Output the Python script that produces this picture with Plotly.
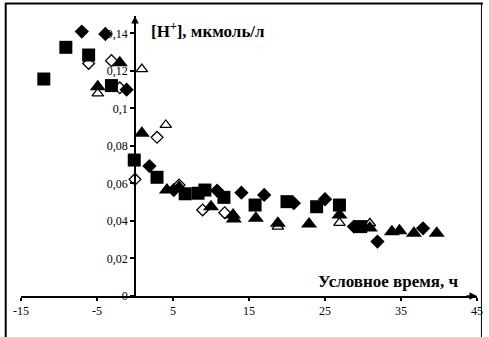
import plotly.graph_objects as go

# ---- data (conditional time, h ; [H+], umol/l) ----
diam_x = [-7.0, -3.9, -1.1, 1.9, 5.1, 10.8, 14.0, 17.0, 20.9, 25.0, 28.8, 31.9, 37.9]
diam_y = [0.141, 0.1397, 0.110, 0.0693, 0.0565, 0.0562, 0.0551, 0.0539, 0.0495, 0.0516, 0.037, 0.029, 0.0361]

sq_x = [-12.0, -9.1, -6.1, -3.1, -0.1, 2.9, 6.6, 8.3, 9.2, 11.7, 15.8, 20.0, 23.9, 26.9, 29.7]
sq_y = [0.1157, 0.1326, 0.1285, 0.1122, 0.0725, 0.0633, 0.0545, 0.0548, 0.0565, 0.0526, 0.0485, 0.0503, 0.0476, 0.0485, 0.037]

tri_x = [-4.9, -2.0, 0.9, 4.2, 5.8, 10.0, 12.9, 13.0, 15.9, 18.8, 22.9, 26.9, 30.9, 33.8, 34.8, 36.7, 39.7]
tri_y = [0.1116, 0.1244, 0.0868, 0.0565, 0.058, 0.0476, 0.0432, 0.041, 0.0414, 0.0388, 0.0384, 0.0432, 0.0363, 0.0343, 0.0348, 0.0334, 0.0334]

odiam_x = [-6.1, -3.1, -2.0, 0.0, 2.9, 5.8, 8.9, 11.8]
odiam_y = [0.124, 0.1255, 0.111, 0.0622, 0.0846, 0.0592, 0.0459, 0.0444]

otri_x = [-4.9, 0.9, 4.05, 18.8, 26.9, 30.9]
otri_y = [0.108, 0.121, 0.0912, 0.037, 0.039, 0.0388]

x_tick_vals = [-15, -5, 5, 15, 25, 35, 45]
x_tick_text = ["-15", "-5", "5", "15", "25", "35", "45"]
y_tick_vals = [0, 0.02, 0.04, 0.06, 0.08, 0.10, 0.12, 0.14]
y_tick_text = ["0", "0,02", "0,04", "0,06", "0,08", "0,1", "0,12", "0,14"]

x_title = "Условное время, ч"
y_title = "[H<sup>+</sup>], мкмоль/л"

FONT = "Liberation Serif, Times New Roman, serif"

fig = go.Figure()

def add(x, y, symbol, size, filled):
    fig.add_trace(go.Scatter(
        x=x, y=y, mode="markers", showlegend=False, cliponaxis=False,
        marker=dict(symbol=symbol, size=size,
                    color="black" if filled else "white",
                    line=dict(color="black", width=0 if filled else 1.3)),
    ))

add(odiam_x, odiam_y, "diamond", 9, False)
add(otri_x, otri_y, "triangle-up", 10, False)
add(sq_x, sq_y, "square", 13, True)
add(diam_x, diam_y, "diamond", 11, True)
add(tri_x, tri_y, "triangle-up", 14, True)

W, H = 489, 337
L, R, T, B = 21, 6, 16, 41
pw, ph = W - L - R, H - T - B

def px(xp):
    return (xp - L) / pw

def py(yp):
    return (H - B - yp) / ph

fig.update_layout(
    width=W, height=H,
    margin=dict(l=L, r=R, t=T, b=B),
    plot_bgcolor="white", paper_bgcolor="white",
    font=dict(family=FONT, size=11, color="black"),
    xaxis=dict(range=[-15, 45], showgrid=False, zeroline=False,
               showline=True, linecolor="black", linewidth=2,
               tickvals=x_tick_vals, ticktext=x_tick_text,
               ticks="outside", ticklen=3, tickwidth=1.5, tickcolor="black",
               ticklabeloverflow="allow",
               tickfont=dict(family=FONT, size=12, color="black")),
    yaxis=dict(range=[0, 0.1493], showgrid=False, zeroline=False,
               anchor="free", position=0.25,
               showline=True, linecolor="black", linewidth=1.5,
               tickvals=y_tick_vals, ticktext=y_tick_text,
               ticks="outside", ticklen=4, tickwidth=1.5, tickcolor="black",
               tickfont=dict(family=FONT, size=12, color="black")),
    shapes=[
        dict(type="line", xref="paper", yref="paper", x0=px(5.5), x1=px(5.5), y0=py(3), y1=py(340),
             line=dict(color="black", width=2)),
        dict(type="line", xref="paper", yref="paper", x0=px(5), x1=px(489), y0=py(3.5), y1=py(3.5),
             line=dict(color="black", width=2)),
        dict(type="line", xref="paper", yref="paper", x0=px(487.5), x1=px(487.5), y0=py(3), y1=py(340),
             line=dict(color="black", width=1)),
    ],
    annotations=[
        dict(x=45, y=0, xref="x", yref="y", ax=-12, ay=0, text="", showarrow=True,
             arrowhead=2, arrowsize=1, arrowwidth=1.5, arrowcolor="black"),
        dict(x=0, y=0.1493, xref="x", yref="y", ax=0, ay=12, text="", showarrow=True,
             arrowhead=2, arrowsize=1, arrowwidth=1.5, arrowcolor="black"),
        dict(x=1.9, y=0.1419, xref="x", yref="y", xanchor="left", yanchor="middle",
             text="<b>" + y_title + "</b>", showarrow=False,
             font=dict(family=FONT, size=17, color="black")),
        dict(x=23.8, y=0.0075, xref="x", yref="y", xanchor="left", yanchor="middle",
             text="<b>" + x_title + "</b>", showarrow=False,
             font=dict(family=FONT, size=17, color="black")),
    ],
)

fig.write_html("out.html", config={"displayModeBar": False},
               post_script="document.body.style.margin='0';document.body.style.overflow='hidden';")
